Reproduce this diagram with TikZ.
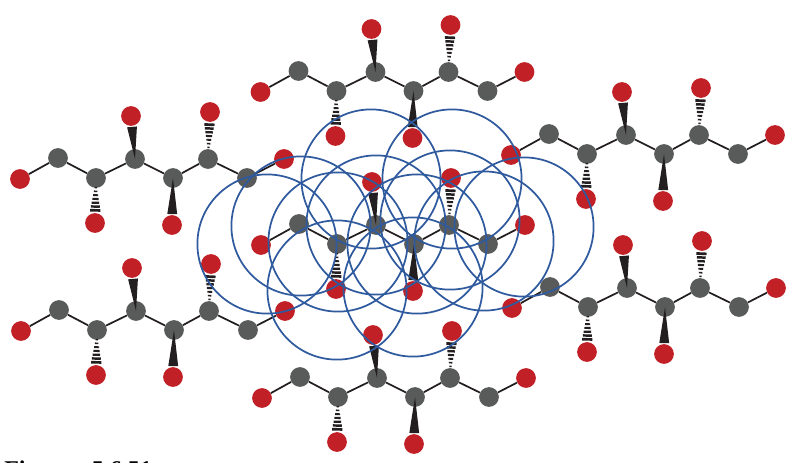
\documentclass[tikz,border=0pt]{standalone}
\usepackage{fontspec}
\setmainfont{Liberation Serif}
\usetikzlibrary{calc}
\definecolor{carbongray}{HTML}{595B5B}
\definecolor{oxygenred}{HTML}{C12026}
\definecolor{ringblue}{HTML}{2F5A9E}
\definecolor{bondblack}{HTML}{231F20}
\tikzset{
    carbon/.style={circle,fill=carbongray,inner sep=0pt,minimum size=14.8pt},
    oxygen/.style={circle,fill=oxygenred,inner sep=0pt,minimum size=14.8pt},
    bond/.style={bondblack,line width=1.3pt},
    ring/.style={ringblue,line width=1.3pt},
}
% solid bond, widens towards the oxygen
\newcommand{\wedgebond}[2]{
    \fill[bondblack] (#1.center) -- ($(#2)!8.2pt!(#1)!3.7pt!90:(#1)$) -- ($(#2)!8.2pt!(#1)!3.7pt!-90:(#1)$) -- cycle;
}
% dashed bond, bars get wider towards the oxygen
\newcommand{\hashbond}[2]{
    \foreach \k in {0,...,6} {
        \pgfmathsetmacro{\dd}{9.5+\k*2.85}
        \pgfmathsetmacro{\hw}{3.8-\k*0.5}
        \pgfmathsetmacro{\lw}{2-\k*0.15}
        \draw[bondblack,line width=\lw pt] ($(#2)!\dd pt!(#1)!\hw pt!90:(#1)$) -- ($(#2)!\dd pt!(#1)!\hw pt!-90:(#1)$);
    }
}
\begin{document}
\begin{tikzpicture}[x=0.75pt,y=-0.75pt]
    \useasboundingbox (0,0) rectangle (792,462);
    \foreach \m/\dx/\dy in {a/0/0,b/1/152,t/240.5/-87,m/241/66,u/242/219,r/491/-24,s/492/129} {
        \begin{scope}[shift={(\dx,\dy)}]
            \node[oxygen] (\m o1) at (20,179) {};
            \node[carbon] (\m c1) at (58,158) {};
            \node[carbon] (\m c2) at (96,178) {};
            \node[carbon] (\m c3) at (135,159) {};
            \node[carbon] (\m c4) at (173,178) {};
            \node[carbon] (\m c5) at (208,159) {};
            \node[carbon] (\m c6) at (247,178) {};
            \node[oxygen] (\m o2) at (284,159) {};
            \node[oxygen] (\m s2) at (95,223) {};
            \node[oxygen] (\m s3) at (131,116) {};
            \node[oxygen] (\m s4) at (172,225) {};
            \node[oxygen] (\m s5) at (210,112) {};
        \end{scope}
        \draw[bond] (\m o1) -- (\m c1) -- (\m c2) -- (\m c3) -- (\m c4) -- (\m c5) -- (\m c6) -- (\m o2);
        \hashbond{\m c2}{\m s2}
        \wedgebond{\m c3}{\m s3}
        \wedgebond{\m c4}{\m s4}
        \hashbond{\m c5}{\m s5}
    }
    \foreach \x/\y in {267/244,301/226,338/242,376/225,417/244,450/220,484/241,524/227,371/179,452/179,337/290,413/287}
        \draw[ring] (\x,\y) circle (69.6);
    \node[anchor=base west,inner sep=0pt,font=\bfseries\fontsize{18pt}{18pt}\selectfont] (caption) at (4,477) {Figure\hspace{15pt}5.6.51};
\end{tikzpicture}
\end{document}
